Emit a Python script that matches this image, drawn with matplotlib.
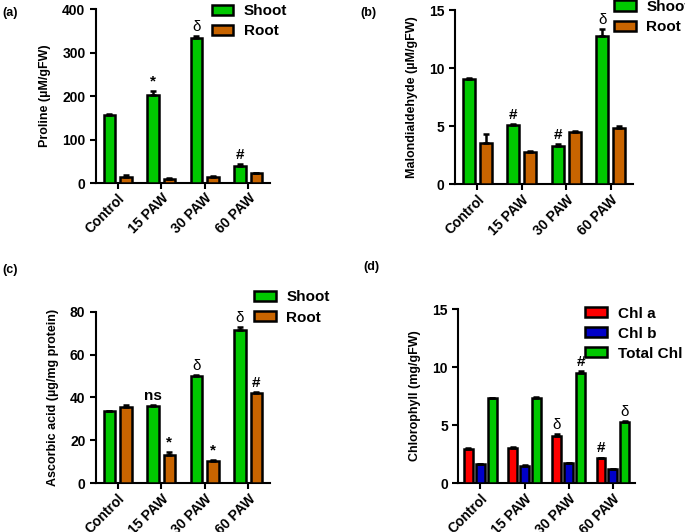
import numpy as np
import matplotlib
matplotlib.use("Agg")
import matplotlib.pyplot as plt
from matplotlib.patches import Patch

plt.rcParams['font.family'] = ['Liberation Sans', 'DejaVu Sans']
plt.rcParams['font.weight'] = 'bold'

groups = ["Control", "15 PAW", "30 PAW", "60 PAW"]

# (a) пролин
proline_shoot = [157, 202, 333, 40]
proline_shoot_err = [1.5, 10, 5, 3]
proline_root = [13, 9, 13, 22]
proline_root_err = [5, 2, 2, 1.5]
proline_marks_shoot = ["", "*", "δ", "#"]
proline_marks_root = ["", "", "", ""]

# (b) малоновый диальдегид
mda_shoot = [9.1, 5.1, 3.3, 12.75]
mda_shoot_err = [0.05, 0.05, 0.15, 0.6]
mda_root = [3.5, 2.8, 4.5, 4.8]
mda_root_err = [0.8, 0.03, 0.05, 0.2]
mda_marks_shoot = ["", "#", "#", "δ"]
mda_marks_root = ["", "", "", ""]

# (c) аскорбиновая кислота
asc_shoot = [33.5, 36, 50, 71.5]
asc_shoot_err = [0.3, 0.5, 0.3, 1.5]
asc_root = [35.5, 13, 10.5, 42]
asc_root_err = [0.8, 1.5, 0.3, 0.7]
asc_marks_shoot = ["", "ns", "δ", "δ"]
asc_marks_root = ["", "*", "*", "#"]

# (d) хлорофилл
chl_a = [2.95, 3.05, 4.1, 2.15]
chl_a_err = [0.05, 0.05, 0.1, 0.05]
chl_b = [1.6, 1.5, 1.7, 1.2]
chl_b_err = [0.03, 0.03, 0.05, 0.03]
chl_total = [7.3, 7.3, 9.5, 5.3]
chl_total_err = [0.05, 0.15, 0.15, 0.05]
chl_marks_a = ["", "", "δ", "#"]
chl_marks_b = ["", "", "", ""]
chl_marks_total = ["", "", "#", "δ"]

GREEN = "#00C800"
BROWN = "#C86400"
RED = "#FF0000"
BLUE = "#0000C8"


def draw_panel(ax, series, colors, errs, marks, offsets, width, ymax, yticks, ylabel, names, leg_anchor):
    x = np.arange(len(groups))
    for vals, col, err, mk, off in zip(series, colors, errs, marks, offsets):
        vals = np.array(vals)
        err = np.array(err)
        ax.bar(x + off, vals, width, color=col, edgecolor="black", linewidth=1.8,
               yerr=[np.zeros_like(err), err], capsize=2.5,
               error_kw=dict(elinewidth=1.8, capthick=1.8, ecolor="black"), zorder=3)
        for xi, v, e, m in zip(x + off, vals, err, mk):
            if m:
                ax.text(xi, v + e + ymax * 0.012, m, ha="center", va="bottom",
                        fontsize=11, fontweight="normal" if m == "δ" else "bold")
    ax.set_xlim(-0.5, len(groups) - 0.5)
    ax.set_ylim(0, ymax)
    ax.set_yticks(yticks)
    ax.set_xticks(x)
    ax.set_xticklabels(groups, rotation=45, ha="right", rotation_mode="anchor", fontsize=10, fontweight="bold")
    ax.tick_params(axis="y", labelsize=10, width=1.5, length=4)
    ax.tick_params(axis="x", width=1.5, length=4, pad=2)
    for lab in ax.get_yticklabels():
        lab.set_fontweight("bold")
    ax.spines["top"].set_visible(False)
    ax.spines["right"].set_visible(False)
    ax.spines["left"].set_linewidth(1.5)
    ax.spines["bottom"].set_linewidth(1.5)
    ax.set_ylabel(ylabel, fontsize=9, fontweight="bold", labelpad=8)
    handles = [Patch(facecolor=c, edgecolor="black", linewidth=1.8) for c in colors]
    ax.legend(handles, names, loc="upper left", bbox_to_anchor=leg_anchor, frameon=False,
              prop=dict(size=11, weight="bold"), handlelength=1.4, handleheight=0.65,
              labelspacing=0.4, handletextpad=0.7, borderaxespad=0)


fig = plt.figure(figsize=(6.85, 5.32), dpi=100)

ax_a = fig.add_axes([0.140, 0.656, 0.254, 0.327])
ax_b = fig.add_axes([0.664, 0.654, 0.260, 0.327])
ax_c = fig.add_axes([0.140, 0.092, 0.254, 0.322])
ax_d = fig.add_axes([0.669, 0.092, 0.258, 0.327])

draw_panel(ax_a, [proline_shoot, proline_root], [GREEN, BROWN],
           [proline_shoot_err, proline_root_err], [proline_marks_shoot, proline_marks_root],
           [-0.19, 0.19], 0.27, 400, [0, 100, 200, 300, 400],
           "Proline (µM/gFW)", ["Shoot", "Root"], (0.63, 1.063))

draw_panel(ax_b, [mda_shoot, mda_root], [GREEN, BROWN],
           [mda_shoot_err, mda_root_err], [mda_marks_shoot, mda_marks_root],
           [-0.19, 0.19], 0.27, 15, [0, 5, 10, 15],
           "Malondialdehyde (µM/gFW)", ["Shoot", "Root"], (0.86, 1.094))

draw_panel(ax_c, [asc_shoot, asc_root], [GREEN, BROWN],
           [asc_shoot_err, asc_root_err], [asc_marks_shoot, asc_marks_root],
           [-0.19, 0.19], 0.27, 80, [0, 20, 40, 60, 80],
           "Ascorbic acid (µg/mg protein)", ["Shoot", "Root"], (0.875, 1.16))

draw_panel(ax_d, [chl_a, chl_b, chl_total], [RED, BLUE, GREEN],
           [chl_a_err, chl_b_err, chl_total_err], [chl_marks_a, chl_marks_b, chl_marks_total],
           [-0.27, 0.0, 0.27], 0.2, 15, [0, 5, 10, 15],
           "Chlorophyll (mg/gFW)", ["Chl a", "Chl b", "Total Chl"], (0.685, 1.05))

for txt, xx, yy in [("(a)", 2, 13), ("(b)", 360, 13), ("(c)", 2, 270), ("(d)", 363, 267)]:
    fig.text(xx / 685, 1 - yy / 532, txt, fontsize=9, fontweight="bold", va="center", ha="left")

fig.savefig("out.png", dpi=100)
